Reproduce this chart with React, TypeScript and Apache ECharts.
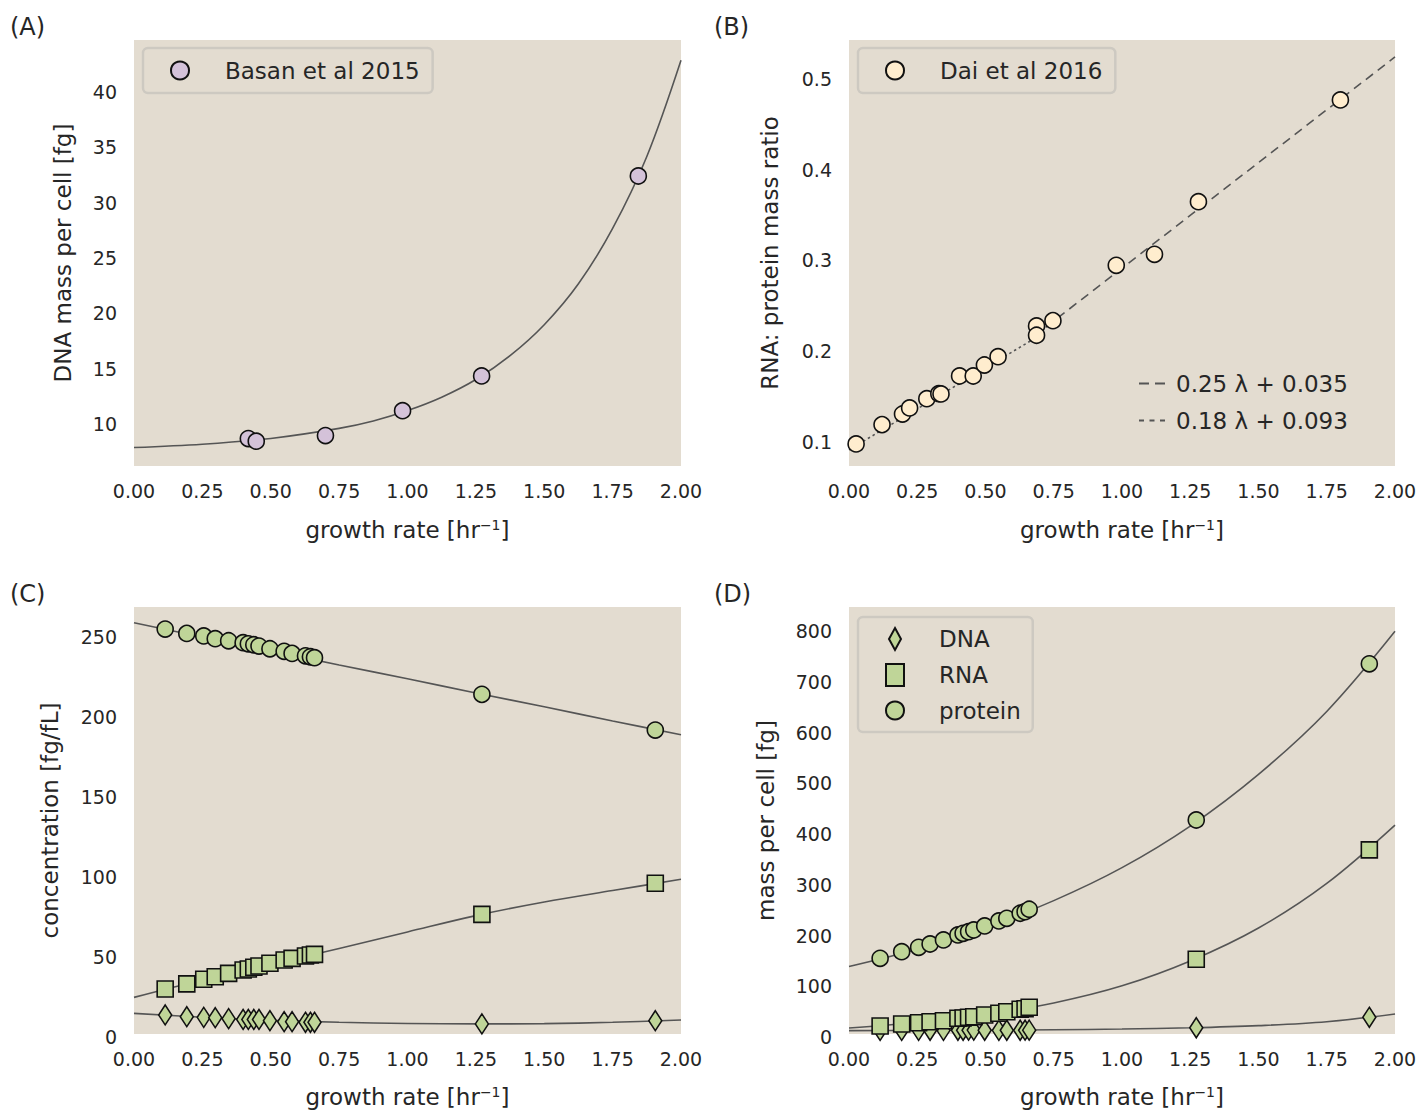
import React, { useEffect, useRef } from 'react';
import * as echarts from 'echarts';

// ---------- data ----------
// (A) Basan et al 2015
const basanRate = [0.418, 0.447, 0.7, 0.982, 1.271, 1.844];
const basanDNA = [8.41, 8.17, 8.68, 10.93, 14.07, 32.14];
const fitRateA = [0, 0.25, 0.5, 0.75, 0.875, 1.0, 1.125, 1.25, 1.375, 1.5, 1.625, 1.75, 1.875, 2.0];
const fitDNA_A = [7.6, 7.9, 8.42, 9.33, 10.0, 10.94, 12.15, 13.75, 15.9, 18.7, 22.4, 27.4, 33.9, 42.6];
const dnaTicksA = [10, 15, 20, 25, 30, 35, 40];

// (B) Dai et al 2016
const daiRate = [0.026, 0.121, 0.196, 0.222, 0.285, 0.329, 0.337, 0.405, 0.455, 0.496, 0.546, 0.687, 0.687, 0.747, 0.979, 1.119, 1.28, 1.8];
const daiRatio = [0.0945, 0.1158, 0.1275, 0.1342, 0.1444, 0.1499, 0.1496, 0.1694, 0.1694, 0.1815, 0.1907, 0.2245, 0.2143, 0.2304, 0.2914, 0.3035, 0.3615, 0.4736];
const dashedRate = [0.72, 2.0];
const dashedRatio = [0.223, 0.521];
const dottedRate = [0.0, 0.72];
const dottedRatio = [0.088, 0.218];
const ratioTicks = [0.1, 0.2, 0.3, 0.4, 0.5];

// (C) and (D) shared growth rates
const rateCD = [0.114, 0.193, 0.255, 0.297, 0.346, 0.399, 0.418, 0.438, 0.457, 0.497, 0.549, 0.578, 0.627, 0.645, 0.66, 1.272, 1.906];
// (C) concentrations [fg/fL]
const concProtein = [253.1, 250.4, 248.8, 247.1, 245.8, 244.6, 243.9, 243.3, 242.5, 240.8, 239.2, 237.9, 236.4, 235.8, 235.2, 212.3, 190.0];
const concRNA = [28.1, 31.3, 34.2, 35.8, 37.9, 40.0, 40.6, 41.7, 42.5, 44.2, 46.3, 47.3, 48.8, 49.4, 49.8, 74.8, 94.2];
const concDNA = [11.9, 10.8, 10.4, 10.2, 9.6, 9.1, 9.1, 9.1, 9.1, 8.3, 7.7, 7.7, 7.3, 7.3, 7.3, 6.3, 8.3];
const fitRateCD = [0, 0.25, 0.5, 0.75, 1.0, 1.25, 1.5, 1.75, 2.0];
const fitConcProtein = [257, 248.2, 239.5, 230.7, 222, 213.2, 204.5, 195.7, 187];
const fitConcRNA = [22.9, 33.8, 43.5, 53.5, 63.8, 74, 82.5, 89.7, 96.7];
const fitConcDNA = [12.9, 10.5, 8.6, 7.3, 6.6, 6.3, 6.5, 7.3, 8.75];
const concTicks = [0, 50, 100, 150, 200, 250];
// (D) mass per cell [fg]
const massProtein = [149.3, 162.3, 171.0, 177.5, 185.4, 195.3, 198.6, 201.8, 205.1, 213.0, 222.9, 228.2, 238.1, 241.2, 246.0, 422, 730];
const massRNA = [15.8, 19.7, 22.3, 24.3, 26.2, 31.0, 31.5, 32.9, 34.1, 37.5, 40.8, 44.0, 48.7, 49.9, 52.7, 147.3, 363];
const massDNA = [7.0, 7.0, 7.2, 7.3, 7.2, 7.3, 7.4, 7.5, 7.7, 7.3, 7.2, 7.4, 7.4, 7.5, 7.6, 12.3, 32.9];
const fitMassProtein = [133, 167, 210, 263, 328, 410, 512, 636, 794];
const fitMassRNA = [11.8, 22.7, 38.1, 61.2, 95, 144, 209, 297, 412];
const fitMassDNA = [6.7, 7.1, 7.5, 8.3, 9.8, 12.2, 16.5, 24.2, 39.5];
const massTicks = [0, 100, 200, 300, 400, 500, 600, 700, 800];

// ---------- styling ----------
const FONT = '"DejaVu Sans", "Liberation Sans", sans-serif';
const TEXT = '#262626';
const BG = '#E3DCD0';
const LINE = '#555555';
const PURPLE = '#D4C2D9';
const YELLOW = '#FFEDCE';
const GREEN = '#BFD598';
const EDGE = '#111111';

const zip = (xs: number[], ys: number[]) => xs.map((x, i) => [x, ys[i]]);

export default function App() {
  const ref = useRef<HTMLDivElement>(null);

  useEffect(() => {
    document.body.style.margin = '0';
    if (!ref.current) return;
    const chart = echarts.init(ref.current, undefined, { renderer: 'svg' });

    const grids = [
      { left: 134, top: 40, width: 547, height: 426 },
      { left: 849, top: 40, width: 546, height: 426 },
      { left: 134, top: 607, width: 547, height: 427 },
      { left: 849, top: 607, width: 546, height: 427 },
    ].map((g) => ({ ...g, show: true, backgroundColor: BG, borderWidth: 0 }));

    const xNameGap = [52, 52, 51, 51];
    const xAxes = grids.map((_, i) => ({
      type: 'value',
      gridIndex: i,
      min: 0,
      max: 2,
      interval: 0.25,
      axisLine: { show: false },
      axisTick: { show: false },
      splitLine: { show: false },
      axisLabel: {
        formatter: (v: number) => v.toFixed(2),
        fontSize: 19,
        color: TEXT,
        fontFamily: FONT,
        margin: 15,
        showMinLabel: true,
        showMaxLabel: true,
      },
      name: 'growth rate [hr{sup|−1}]',
      nameLocation: 'middle',
      nameGap: xNameGap[i],
      nameTextStyle: {
        fontSize: 23,
        color: TEXT,
        fontFamily: FONT,
        rich: {
          sup: { fontSize: 14, color: TEXT, fontFamily: FONT, verticalAlign: 'top', lineHeight: 12, padding: [0, 0, 12, 0] },
        },
      },
    }));

    const yLabel = (ticks: number[], fmt: (v: number) => string) => ({
      customValues: ticks,
      formatter: (v: number) => `{t|${fmt(v)}}`,
      margin: 17,
      rich: {
        t: { fontSize: 19, color: TEXT, fontFamily: FONT, padding: [6, 0, 0, 0] },
      },
    });
    const yCommon = {
      type: 'value',
      axisLine: { show: false },
      axisTick: { show: false },
      splitLine: { show: false },
      nameLocation: 'middle',
      nameRotate: 90,
      nameTextStyle: { fontSize: 23, color: TEXT, fontFamily: FONT },
    };
    const yAxes = [
      { ...yCommon, gridIndex: 0, min: 5.93, max: 44.43, axisLabel: yLabel(dnaTicksA, (v) => String(v)), name: 'DNA mass per cell [fg]', nameGap: 60 },
      { ...yCommon, gridIndex: 1, min: 0.0702, max: 0.5397, axisLabel: yLabel(ratioTicks, (v) => v.toFixed(1)), name: 'RNA: protein mass ratio', nameGap: 68 },
      { ...yCommon, gridIndex: 2, min: 0, max: 266.9, axisLabel: yLabel(concTicks, (v) => String(v)), name: 'concentration [fg/fL]', nameGap: 73 },
      { ...yCommon, gridIndex: 3, min: 0, max: 842, axisLabel: yLabel(massTicks, (v) => String(v)), name: 'mass per cell [fg]', nameGap: 72 },
    ];

    const fitLine = (name: string, idx: number, xs: number[], ys: number[], type: any = 'solid') => ({
      name,
      type: 'line',
      xAxisIndex: idx,
      yAxisIndex: idx,
      data: zip(xs, ys),
      smooth: 0.35,
      showSymbol: false,
      symbol: 'none',
      lineStyle: { color: LINE, width: 1.6, type },
      itemStyle: { color: LINE },
      z: 2,
      silent: true,
    });
    const straight = (name: string, idx: number, xs: number[], ys: number[], type: any) => ({
      ...fitLine(name, idx, xs, ys, type),
      smooth: false,
    });
    const dots = (name: string, idx: number, xs: number[], ys: number[], color: string, symbol: string, size: any) => ({
      name,
      type: 'scatter',
      xAxisIndex: idx,
      yAxisIndex: idx,
      data: zip(xs, ys),
      symbol,
      symbolSize: size,
      itemStyle: { color, borderColor: EDGE, borderWidth: 1.6, opacity: 1 },
      z: 3,
      silent: true,
    });

    const series = [
      fitLine('fit A', 0, fitRateA, fitDNA_A),
      dots('Basan et al 2015', 0, basanRate, basanDNA, PURPLE, 'circle', 16),

      straight('0.25 λ + 0.035', 1, dashedRate, dashedRatio, [9, 6]),
      straight('0.18 λ + 0.093', 1, dottedRate, dottedRatio, [2.5, 3]),
      dots('Dai et al 2016', 1, daiRate, daiRatio, YELLOW, 'circle', 16),

      fitLine('fit C protein', 2, fitRateCD, fitConcProtein),
      fitLine('fit C RNA', 2, fitRateCD, fitConcRNA),
      fitLine('fit C DNA', 2, fitRateCD, fitConcDNA),
      dots('DNA (C)', 2, rateCD, concDNA, GREEN, 'diamond', [13, 20]),
      dots('RNA (C)', 2, rateCD, concRNA, GREEN, 'rect', 16),
      dots('protein (C)', 2, rateCD, concProtein, GREEN, 'circle', 16),

      fitLine('fit D protein', 3, fitRateCD, fitMassProtein),
      fitLine('fit D RNA', 3, fitRateCD, fitMassRNA),
      fitLine('fit D DNA', 3, fitRateCD, fitMassDNA),
      dots('DNA', 3, rateCD, massDNA, GREEN, 'diamond', [13, 20]),
      dots('RNA', 3, rateCD, massRNA, GREEN, 'rect', 16),
      dots('protein', 3, rateCD, massProtein, GREEN, 'circle', 16),
    ];

    const legendText = { fontSize: 23, color: TEXT, fontFamily: FONT };
    const boxed = {
      backgroundColor: 'rgba(227,220,208,0.85)',
      borderColor: '#CDC9C1',
      borderWidth: 2.5,
      borderRadius: 5,
      selectedMode: false,
      itemWidth: 18,
      itemHeight: 18,
    };
    const legend = [
      { ...boxed, data: ['Basan et al 2015'], left: 143, top: 48, padding: [11, 13, 11, 27], textStyle: { ...legendText, padding: [0, 0, 0, 31] } },
      { ...boxed, data: ['Dai et al 2016'], left: 858, top: 48, padding: [11, 13, 11, 27], textStyle: { ...legendText, padding: [0, 0, 0, 31] } },
      {
        data: [
          { name: '0.25 λ + 0.035', icon: 'path://M0,0H10V2H0Z M16,0H26V2H16Z', itemStyle: { color: LINE } },
          { name: '0.18 λ + 0.093', icon: 'path://M0,0H5V2H0Z M10.5,0H15.5V2H10.5Z M21,0H26V2H21Z', itemStyle: { color: LINE } },
        ],
        left: 1139,
        top: 372,
        orient: 'vertical',
        padding: 0,
        itemWidth: 26,
        itemHeight: 14,
        itemGap: 14,
        selectedMode: false,
        textStyle: { ...legendText, padding: [0, 0, 0, 6] },
      },
      {
        ...boxed,
        data: [{ name: 'DNA', icon: 'path://M6,0L12,11L6,22L0,11Z' }, 'RNA', 'protein'],
        left: 858,
        top: 617,
        orient: 'vertical',
        itemHeight: 22,
        itemGap: 12,
        padding: [10, 12, 10, 27],
        textStyle: { ...legendText, padding: [0, 0, 0, 30] },
      },
    ];

    const panelTitle = (text: string, left: number, top: number) => ({
      text,
      left,
      top,
      padding: 0,
      textStyle: { fontSize: 24, fontWeight: 'normal', color: TEXT, fontFamily: FONT },
    });

    chart.setOption({
      animation: false,
      backgroundColor: '#ffffff',
      title: [
        panelTitle('(A)', 10, 15),
        panelTitle('(B)', 714, 15),
        panelTitle('(C)', 10, 582),
        panelTitle('(D)', 714, 582),
      ],
      grid: grids,
      xAxis: xAxes,
      yAxis: yAxes,
      legend,
      series,
    } as any);

    return () => chart.dispose();
  }, []);

  return <div ref={ref} style={{ width: 1423, height: 1112 }} />;
}
